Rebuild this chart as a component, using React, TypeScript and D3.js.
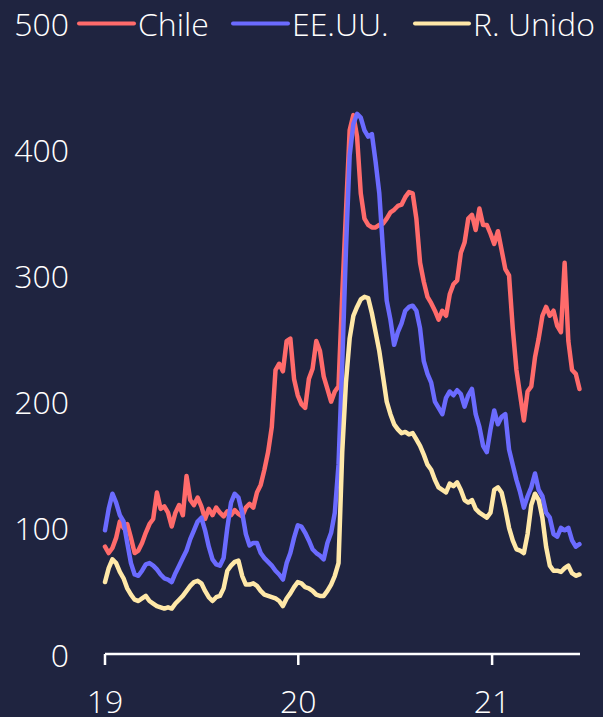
import React from "react";
import * as d3 from "d3";

const W = 603;
const H = 717;

const startDate = new Date(2019, 0, 1);
const endDate = new Date(2021, 5, 16);

const chile = [85,80,84,92,105,100,103,92,80,82,88,96,103,107,128,115,117,112,101,112,118,110,141,122,118,124,117,107,115,110,116,112,109,113,110,114,111,109,116,119,116,128,134,146,160,180,225,230,224,248,250,218,205,198,195,218,226,248,240,220,210,200,208,212,285,350,415,427,410,365,345,340,338,338,340,341,345,350,352,355,356,362,366,365,345,310,295,283,278,272,265,272,268,285,293,296,318,326,345,348,336,353,340,340,333,325,335,320,305,300,258,225,205,185,208,212,235,250,268,275,268,272,260,255,310,248,225,222,210];

const eeuu = [98,115,127,120,110,105,88,72,63,62,66,71,72,70,67,63,60,59,57,64,70,76,82,91,98,105,108,98,85,75,71,70,76,100,120,127,124,112,95,86,88,88,80,76,73,70,66,63,59,72,80,92,102,101,96,90,83,80,78,75,88,96,112,150,230,320,395,420,428,425,415,410,412,390,365,320,280,265,245,255,262,272,275,276,272,258,232,222,215,200,195,190,203,208,205,209,206,196,205,210,190,180,165,160,178,193,182,188,190,162,150,138,128,116,125,132,143,130,125,112,108,95,93,100,98,100,90,85,87];

const runido = [57,68,75,72,65,60,52,47,43,42,44,46,42,40,38,37,36,37,36,40,43,46,50,54,57,58,56,50,45,42,45,46,52,66,70,73,74,62,55,55,56,54,50,47,46,45,44,42,38,44,48,53,57,56,53,52,50,47,46,46,50,55,62,72,160,215,250,268,275,281,283,282,270,255,240,220,200,190,182,178,175,176,174,175,170,165,158,150,146,138,132,130,128,135,133,136,130,122,120,122,115,112,110,108,112,130,132,128,115,100,90,83,82,80,95,118,127,122,108,85,70,66,66,65,68,70,64,62,63];

const seriesNames = ["Chile", "EE.UU.", "R. Unido"];
const seriesColors = ["#ff6b6b", "#6b6bff", "#ffe8a8"];
const seriesValues = [chile, eeuu, runido];

const yTicks = [0, 100, 200, 300, 400, 500];
const xTickDates = [new Date(2019, 0, 1), new Date(2020, 0, 1), new Date(2021, 0, 1)];
const xTickLabels = ["19", "20", "21"];

const FONT = "'Open Sans', 'Noto Sans', sans-serif";

export default function App() {
  const x = d3.scaleTime().domain([startDate, endDate]).range([105, 580]);
  const y = d3.scaleLinear().domain([0, 500]).range([654, 23]);

  const dates = chile.map((_, i) => d3.timeDay.offset(startDate, 7 * i));

  const line = d3
    .line<number>()
    .x((_, i) => x(dates[i]))
    .y((d) => y(d))
    .curve(d3.curveLinear);

  const legendPos = [
    { x1: 79, x2: 134, tx: 138 },
    { x1: 233, x2: 288, tx: 292 },
    { x1: 415, x2: 469, tx: 473 },
  ];

  return (
    <svg
      width={W}
      height={H}
      style={{ position: "absolute", left: 0, top: 0, background: "#1f2440", display: "block" }}
    >
      <rect x={0} y={0} width={W} height={H} fill="#1f2440" />
      {yTicks.map((t) => (
        <text
          key={t}
          x={69}
          y={y(t)}
          textAnchor="end"
          dominantBaseline="central"
          fill="#ffffff"
          fontFamily={FONT}
          fontWeight={300}
          fontSize={32}
        >
          {t}
        </text>
      ))}
      {seriesValues.map((vals, k) => (
        <path
          key={k}
          d={line(vals) || ""}
          fill="none"
          stroke={seriesColors[k]}
          strokeWidth={4.5}
          strokeLinejoin="round"
          strokeLinecap="round"
        />
      ))}
      <line x1={105} x2={580} y1={y(0)} y2={y(0)} stroke="#ffffff" strokeWidth={2.5} />
      {xTickDates.map((d, i) => (
        <g key={i}>
          <line x1={x(d)} x2={x(d)} y1={y(0)} y2={y(0) + 11} stroke="#ffffff" strokeWidth={2.5} />
          <text
            x={x(d)}
            y={700}
            textAnchor="middle"
            dominantBaseline="central"
            fill="#ffffff"
            fontFamily={FONT}
            fontWeight={300}
            fontSize={32}
          >
            {xTickLabels[i]}
          </text>
        </g>
      ))}
      {seriesNames.map((name, k) => (
        <g key={name}>
          <line
            x1={legendPos[k].x1}
            x2={legendPos[k].x2}
            y1={23.5}
            y2={23.5}
            stroke={seriesColors[k]}
            strokeWidth={4}
            strokeLinecap="round"
          />
          <text
            x={legendPos[k].tx}
            y={23}
            dominantBaseline="central"
            fill="#ffffff"
            fontFamily={FONT}
            fontWeight={300}
            fontSize={32}
          >
            {name}
          </text>
        </g>
      ))}
    </svg>
  );
}
